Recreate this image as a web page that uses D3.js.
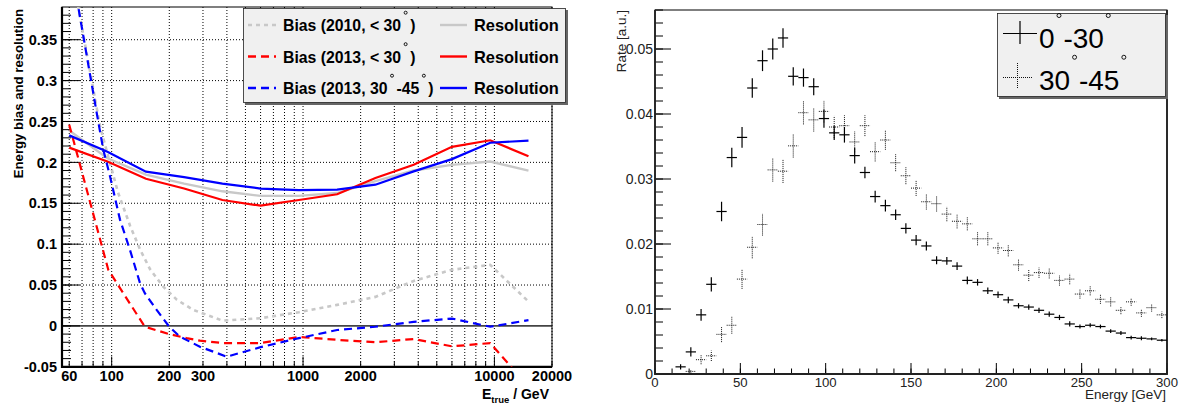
<!DOCTYPE html>
<html lang="en">
<head>
<meta charset="UTF-8">
<title>Energy bias, resolution and rate</title>
<style>
  body { margin: 0; background: #fff; }
  svg { display: block; font-family: "Liberation Sans", Arial, Helvetica, sans-serif; }
</style>
</head>
<body>
<svg id="chart" width="1188" height="407"></svg>
<script src="https://cdn.jsdelivr.net/npm/d3@7/dist/d3.min.js"></script>
<script>
// ---- left panel data (energy in GeV) ----
var binE = [60, 95, 151, 239, 379, 600, 951, 1507, 2389, 3786, 6000, 9509, 15071];
var res2010 = [0.239, 0.205, 0.185, 0.174, 0.1646, 0.159, 0.159, 0.1625, 0.177, 0.190, 0.197, 0.201, 0.190];
var res2013 = [0.218, 0.201, 0.180, 0.168, 0.154, 0.147, 0.154, 0.161, 0.181, 0.197, 0.219, 0.227, 0.2075];
var res2013b = [0.233, 0.213, 0.1887, 0.182, 0.174, 0.168, 0.166, 0.1666, 0.1727, 0.189, 0.204, 0.224, 0.2266];

var grayBiasE = [60, 87, 98, 108, 125, 141, 159, 186, 219, 267, 314, 379, 600, 951, 1507, 2389, 3786, 6000, 9509, 15071];
var grayBias = [0.45, 0.244, 0.199, 0.163, 0.122, 0.093, 0.069, 0.048, 0.032, 0.0196, 0.0135, 0.0065, 0.0094, 0.0168, 0.0257, 0.0355, 0.055, 0.0686, 0.0747, 0.0298];

var redBiasE = [60, 96, 149, 200, 246, 289, 383, 600, 951, 1507, 2389, 3786, 6000, 9509, 15071];
var redBias = [0.246, 0.0686, -0.001, -0.010, -0.015, -0.018, -0.021, -0.021, -0.0135, -0.017, -0.020, -0.016, -0.025, -0.021, -0.074];

var blueBiasE = [60, 67, 83.5, 90.4, 98, 110.5, 124.6, 140.6, 149, 171.8, 200, 227, 289, 399, 600, 951, 1507, 2389, 3786, 6000, 9509, 15071];
var blueBias = [0.45, 0.389, 0.2606, 0.2156, 0.183, 0.130, 0.093, 0.0523, 0.040, 0.0196, -0.001, -0.013, -0.0254, -0.0376, -0.026, -0.015, -0.005, -0.001, 0.005, 0.009, -0.001, 0.007];

var yTicksLeft = [-0.05, 0, 0.05, 0.1, 0.15, 0.2, 0.25, 0.3, 0.35];
var xLabelsLeft = [60, 100, 200, 300, 1000, 2000, 10000, 20000];

// ---- right panel data ----
var rateE = [15, 21, 27, 33, 39, 45, 51, 57, 63, 69, 75, 81, 87, 93, 99, 105, 111, 117, 123, 129,
  135, 141, 147, 153, 159, 165, 171, 177, 183, 189, 195, 201, 207, 213, 219, 225, 231, 237, 243, 249,
  255, 261, 267, 273, 279, 285, 291, 297];
var rate0 = [0.0011, 0.0034, 0.0091, 0.0138, 0.0250, 0.0333, 0.0364, 0.0440, 0.0482, 0.0500, 0.0517, 0.0458, 0.0456, 0.0442, 0.0393, 0.0371, 0.0368, 0.0336, 0.0310, 0.0273,
  0.0259, 0.0245, 0.0224, 0.0206, 0.0197, 0.0175, 0.0174, 0.0166, 0.0144, 0.0141, 0.0128, 0.0122, 0.0114, 0.0105, 0.0103, 0.0098, 0.0092, 0.0087, 0.0077, 0.0073,
  0.0075, 0.0073, 0.0066, 0.0063, 0.0056, 0.0055, 0.0054, 0.0052];
var err0 = [0.0004, 0.0007, 0.0009, 0.0011, 0.0015, 0.0015, 0.0016, 0.0015, 0.0016, 0.0016, 0.0015, 0.0014, 0.0014, 0.0013, 0.0014, 0.0011, 0.0012, 0.0012, 0.0009, 0.0009,
  0.0009, 0.0008, 0.0008, 0.0008, 0.0007, 0.0006, 0.0006, 0.0006, 0.0006, 0.0005, 0.0005, 0.0005, 0.0005, 0.0004, 0.0004, 0.0004, 0.0004, 0.0004, 0.0004, 0.0003,
  0.0003, 0.0003, 0.0003, 0.0003, 0.0003, 0.0003, 0.0002, 0.0002];
var rate30 = [null, 0.0004, 0.0022, 0.0028, 0.0061, 0.0075, 0.0146, 0.0195, 0.0230, 0.0314, 0.0312, 0.0351, 0.0402, 0.0391, 0.0404, 0.0380, 0.0382, 0.0357, 0.0382, 0.0342,
  0.0360, 0.0325, 0.0305, 0.0286, 0.0265, 0.0262, 0.0246, 0.0235, 0.0231, 0.0208, 0.0208, 0.0194, 0.0190, 0.0168, 0.0152, 0.0156, 0.0155, 0.0144, 0.0146, 0.0123,
  0.0128, 0.0115, 0.0111, 0.0098, 0.0111, 0.0094, 0.0102, 0.0091];
var err30 = [null, 0.0003, 0.0007, 0.0008, 0.0012, 0.0013, 0.0015, 0.0017, 0.0017, 0.0018, 0.0018, 0.0018, 0.0018, 0.0018, 0.0017, 0.0017, 0.0016, 0.0016, 0.0016, 0.0015,
  0.0015, 0.0013, 0.0013, 0.0012, 0.0012, 0.0012, 0.0011, 0.0011, 0.0010, 0.0010, 0.0010, 0.0009, 0.0009, 0.0009, 0.0009, 0.0008, 0.0008, 0.0008, 0.0008, 0.0007,
  0.0007, 0.0007, 0.0007, 0.0006, 0.0006, 0.0006, 0.0006, 0.0005];
var binHalf = 3;

var yTicksRight = [0, 0.01, 0.02, 0.03, 0.04, 0.05];
var xTicksRight = [0, 50, 100, 150, 200, 250, 300];

var svg = d3.select("#chart");

// helper: text with small raised degree rings (glyph keeps the space, ring drawn as circle)
function degText(g, x, y, parts, size, weight, degSize, rise, gap, r) {
  var t = g.append("text").attr("x", x).attr("y", y)
    .attr("font-size", size).attr("font-weight", weight);
  var up = false, idx = [], n = 0;
  parts.forEach(function (p) {
    if (p === "°") {
      t.append("tspan").attr("font-size", degSize).attr("font-weight", "normal")
        .attr("fill", "none").attr("dx", gap).attr("dy", -rise).text("°");
      idx.push(n);
      up = true;
    } else {
      t.append("tspan").attr("dx", up ? gap : 0).attr("dy", up ? rise : 0).text(p);
      up = false;
    }
    n += p.length;
  });
  idx.forEach(function (i) {
    var ext = t.node().getExtentOfChar(i);
    g.append("circle").attr("cx", ext.x + ext.width / 2).attr("cy", y - rise - 0.58 * degSize)
      .attr("r", r).attr("fill", "none").attr("stroke", "#000").attr("stroke-width", 0.9);
  });
  return t;
}

// ================= LEFT PANEL =================
var xL = d3.scaleLog().domain([55, 20000]).range([62, 552]);
var yL = d3.scaleLinear().domain([-0.05, 0.39]).range([366.8, 7]);
var L = svg.append("g");

L.append("clipPath").attr("id", "clipL").append("rect")
  .attr("x", 62).attr("y", 7).attr("width", 490).attr("height", 359.8);

// grid
L.append("g").selectAll("line").data(xL.ticks()).join("line")
  .attr("x1", d => xL(d)).attr("x2", d => xL(d))
  .attr("y1", yL.range()[1]).attr("y2", yL.range()[0])
  .attr("stroke", "#000").attr("stroke-width", 1).attr("stroke-dasharray", "1,2");
L.append("g").selectAll("line").data(yTicksLeft.filter(d => d > 0)).join("line")
  .attr("x1", 62).attr("x2", 552)
  .attr("y1", d => yL(d)).attr("y2", d => yL(d))
  .attr("stroke", "#000").attr("stroke-width", 1).attr("stroke-dasharray", "1,2");
L.append("line").attr("x1", 62).attr("x2", 552).attr("y1", yL(0)).attr("y2", yL(0))
  .attr("stroke", "#444").attr("stroke-width", 1.6);

// ticks
L.append("g").selectAll("line").data(d3.range(-0.05, 0.39, 0.01)).join("line")
  .attr("x1", 62).attr("x2", 71).attr("y1", d => yL(d)).attr("y2", d => yL(d))
  .attr("stroke", "#000").attr("stroke-width", 1);
L.append("g").selectAll("line").data(yTicksLeft).join("line")
  .attr("x1", 62).attr("x2", 80).attr("y1", d => yL(d)).attr("y2", d => yL(d))
  .attr("stroke", "#000").attr("stroke-width", 1);
L.append("g").selectAll("line").data(xL.ticks()).join("line")
  .attr("x1", d => xL(d)).attr("x2", d => xL(d))
  .attr("y1", 366.8).attr("y2", d => [100, 1000, 10000].includes(d) ? 356.5 : 361.5)
  .attr("stroke", "#000").attr("stroke-width", 1);

// frame
L.append("rect").attr("x", 62).attr("y", 7).attr("width", 490).attr("height", 359.8)
  .attr("fill", "none").attr("stroke", "#000").attr("stroke-width", 1);
L.append("path").attr("d", "M62,7V366.8H552").attr("fill", "none")
  .attr("stroke", "#000").attr("stroke-width", 2.2);

// labels
L.append("g").selectAll("text").data(yTicksLeft).join("text")
  .attr("x", 57).attr("y", d => yL(d)).attr("dy", "0.36em")
  .attr("text-anchor", "end").attr("font-size", 14.5).attr("font-weight", "bold")
  .text(d => d.toString());
L.append("g").selectAll("text").data(xLabelsLeft).join("text")
  .attr("x", d => xL(d)).attr("y", 381)
  .attr("text-anchor", "middle").attr("font-size", 14.5).attr("font-weight", "bold")
  .text(d => d.toString());
L.append("text").attr("transform", "translate(23,9) rotate(-90)")
  .attr("text-anchor", "end").attr("font-size", 13.2).attr("font-weight", "bold")
  .text("Energy bias and resolution");
var xt = L.append("text").attr("x", 549).attr("y", 399).attr("text-anchor", "end")
  .attr("font-size", 14).attr("font-weight", "bold");
xt.append("tspan").text("E");
xt.append("tspan").attr("font-size", 9.5).attr("dy", 4).text("true");
xt.append("tspan").attr("dy", -4).text(" / GeV");

// curves
var lineL = d3.line().x(d => xL(d[0])).y(d => yL(d[1]));
var curves = [
  { e: binE, v: res2010, color: "#c8c8c8", dash: null, w: 2.4 },
  { e: grayBiasE, v: grayBias, color: "#c8c8c8", dash: "4,4", w: 2.6 },
  { e: binE, v: res2013, color: "#ff0000", dash: null, w: 2.2 },
  { e: redBiasE, v: redBias, color: "#ff0000", dash: "8,5", w: 2.2 },
  { e: binE, v: res2013b, color: "#0000ff", dash: null, w: 2.2 },
  { e: blueBiasE, v: blueBias, color: "#0000ff", dash: "8,5", w: 2.2 }
];
L.append("g").attr("clip-path", "url(#clipL)").selectAll("path").data(curves).join("path")
  .attr("d", c => lineL(d3.zip(c.e, c.v)))
  .attr("fill", "none").attr("stroke", c => c.color).attr("stroke-width", c => c.w)
  .attr("stroke-dasharray", c => c.dash);

// legend
var lg = L.append("g");
lg.append("rect").attr("x", 245).attr("y", 10).attr("width", 323).attr("height", 95).attr("fill", "#666");
lg.append("rect").attr("x", 243.5).attr("y", 8.5).attr("width", 322).attr("height", 94)
  .attr("fill", "#f0f0f0").attr("stroke", "#222").attr("stroke-width", 0.8);
var legRows = [
  { parts: ["Bias (2010, < 30", "°", ")"], color: "#c8c8c8", dash: "4,4" },
  { parts: ["Bias (2013, < 30", "°", ")"], color: "#ff0000", dash: "8,5" },
  { parts: ["Bias (2013, 30", "°", "-45", "°", ")"], color: "#0000ff", dash: "8,5" }
];
legRows.forEach(function (r, i) {
  var cy = 25 + i * 31.5;
  lg.append("line").attr("x1", 248).attr("x2", 276).attr("y1", cy).attr("y2", cy)
    .attr("stroke", r.color).attr("stroke-width", 2.4).attr("stroke-dasharray", r.dash);
  degText(lg, 283, cy + 6, r.parts, 15.8, "bold", 10, 12.5, 2.5, 1.5);
  lg.append("line").attr("x1", 440).attr("x2", 467).attr("y1", cy).attr("y2", cy)
    .attr("stroke", r.color).attr("stroke-width", 2.4);
  lg.append("text").attr("x", 474).attr("y", cy + 6).attr("font-size", 16.4)
    .attr("font-weight", "bold").text("Resolution");
});

// ================= RIGHT PANEL =================
var xR = d3.scaleLinear().domain([0, 300]).range([655, 1167]);
var yR = d3.scaleLinear().domain([0, 0.056]).range([374, 10]);
var R = svg.append("g");

R.append("g").selectAll("line").data(d3.range(0, 0.0561, 0.002)).join("line")
  .attr("x1", 655).attr("x2", 663).attr("y1", d => yR(d)).attr("y2", d => yR(d))
  .attr("stroke", "#000").attr("stroke-width", 1);
R.append("g").selectAll("line").data(yTicksRight).join("line")
  .attr("x1", 655).attr("x2", 671).attr("y1", d => yR(d)).attr("y2", d => yR(d))
  .attr("stroke", "#000").attr("stroke-width", 1);
R.append("g").selectAll("line").data(d3.range(0, 301, 10)).join("line")
  .attr("x1", d => xR(d)).attr("x2", d => xR(d)).attr("y1", 374).attr("y2", 368.5)
  .attr("stroke", "#000").attr("stroke-width", 1);
R.append("g").selectAll("line").data(xTicksRight).join("line")
  .attr("x1", d => xR(d)).attr("x2", d => xR(d)).attr("y1", 374).attr("y2", 363)
  .attr("stroke", "#000").attr("stroke-width", 1);

R.append("rect").attr("x", 655).attr("y", 10).attr("width", 512).attr("height", 364)
  .attr("fill", "none").attr("stroke", "#000").attr("stroke-width", 1);
R.append("path").attr("d", "M655,10V374H1167V10").attr("fill", "none")
  .attr("stroke", "#222").attr("stroke-width", 1.8);

R.append("g").selectAll("text").data(yTicksRight).join("text")
  .attr("x", 653).attr("y", d => yR(d)).attr("dy", "0.36em")
  .attr("text-anchor", "end").attr("font-size", 14).attr("fill", "#222")
  .text(d => d.toString());
R.append("g").selectAll("text").data(xTicksRight).join("text")
  .attr("x", d => xR(d)).attr("y", 387)
  .attr("text-anchor", "middle").attr("font-size", 13.2).attr("fill", "#222")
  .text(d => d.toString());
R.append("text").attr("transform", "translate(626,10) rotate(-90)")
  .attr("text-anchor", "end").attr("font-size", 13.5).attr("fill", "#222").text("Rate [a.u.]");
R.append("text").attr("x", 1166).attr("y", 399).attr("text-anchor", "end")
  .attr("font-size", 13.5).attr("fill", "#222").text("Energy [GeV]");

function errorBars(g, vals, errs, dash, color, w) {
  var pts = rateE.map((e, i) => ({ e: e, v: vals[i], s: errs[i] })).filter(d => d.v !== null);
  var gg = g.append("g").attr("stroke", color).attr("stroke-width", w).attr("stroke-dasharray", dash);
  gg.selectAll("line.h").data(pts).join("line").attr("class", "h")
    .attr("x1", d => xR(d.e - binHalf)).attr("x2", d => xR(d.e + binHalf))
    .attr("y1", d => yR(d.v)).attr("y2", d => yR(d.v));
  gg.selectAll("line.v").data(pts).join("line").attr("class", "v")
    .attr("x1", d => xR(d.e)).attr("x2", d => xR(d.e))
    .attr("y1", d => yR(d.v - d.s)).attr("y2", d => yR(d.v + d.s));
}
errorBars(R, rate30, err30, "1,1", "#111", 1);
errorBars(R, rate0, err0, null, "#000", 1.2);

// legend
var rl = R.append("g");
rl.append("rect").attr("x", 999).attr("y", 15).attr("width", 169).attr("height", 84).attr("fill", "#666");
rl.append("rect").attr("x", 997.5).attr("y", 13.5).attr("width", 168).attr("height", 83)
  .attr("fill", "#f0f0f0").attr("stroke", "#222").attr("stroke-width", 0.8);
rl.append("path").attr("d", "M1003,33.5H1037M1020,21V44").attr("stroke", "#000").attr("stroke-width", 1.2);
rl.append("path").attr("d", "M1003,77.5H1033M1017.5,63V89").attr("stroke", "#111")
  .attr("stroke-width", 1).attr("stroke-dasharray", "1,1");
degText(rl, 1039, 48.3, ["0", "°", "-30", "°"], 28, "normal", 12, 25.8, 2, 2);
degText(rl, 1039, 90, ["30", "°", "-45", "°"], 28, "normal", 12, 25.8, 2, 2);
</script>
</body>
</html>
